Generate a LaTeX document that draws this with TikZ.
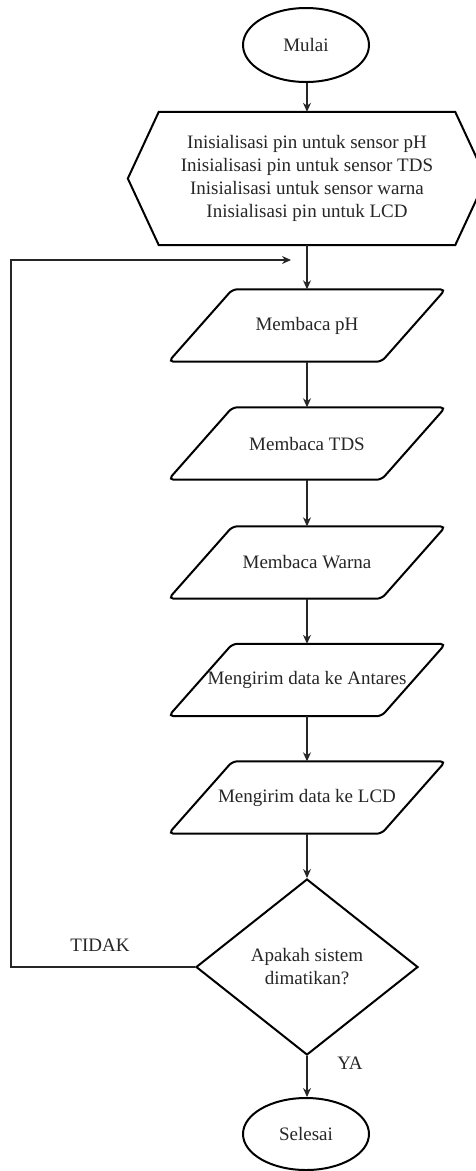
\documentclass[tikz,border=0pt]{standalone}
\usepackage{fontspec}
\setmainfont{Liberation Serif}
\usetikzlibrary{shapes.geometric,arrows.meta}
\newcommand\paral[1]{\draw[shp,rounded corners=5pt] ([xshift=-74.5pt]#1.north) -- ([xshift=138.5pt]#1.north) -- ([xshift=74.5pt]#1.south) -- ([xshift=-138.5pt]#1.south) -- cycle;}
\begin{document}
\begin{tikzpicture}[x=1pt,y=-1pt,
  font=\fontsize{19}{23}\selectfont,
  shp/.style={draw=black,line width=2pt},
  term/.style={shp,ellipse,inner sep=0pt,minimum width=126pt,minimum height=74pt},
  box/.style={inner sep=0pt,minimum width=200pt,minimum height=72pt,align=center,text=black!85},
  dec/.style={shp,diamond,inner sep=0pt,minimum width=222pt,minimum height=176pt,align=center,text=black!85},
  conn/.style={draw=black!85,line width=1.2pt,-{Stealth[length=9pt,width=8pt]}},
  lbl/.style={text=black!85}]
\useasboundingbox (0,0) rectangle (476,1171);
\clip (0,0) rectangle (476,1171);
\fill[white] (0,0) rectangle (476,1171);

\node[term,text=black!85] (mulai) at (306,45) {Mulai};

\node[box,minimum width=296pt,minimum height=133pt] (init) at (307,178.5)
  {Inisialisasi pin untuk sensor pH\\Inisialisasi pin untuk sensor TDS\\Inisialisasi untuk sensor warna\\Inisialisasi pin untuk LCD};
\draw[shp] (init.north west) -- (init.north east) -- ([xshift=31pt]init.east) -- (init.south east) -- (init.south west) -- ([xshift=-31pt]init.west) -- cycle;

\node[box] (ph) at (307,325.5) {Membaca pH};
\paral{ph}
\node[box] (tds) at (307,443.5) {Membaca TDS};
\paral{tds}
\node[box] (warna) at (307,562.5) {Membaca Warna};
\paral{warna}
\node[box] (antares) at (307,680) {Mengirim data ke Antares};
\paral{antares}
\node[box] (lcd) at (307,797.5) {Mengirim data ke LCD};
\paral{lcd}

\node[dec] (dec) at (307,967) {Apakah sistem\\dimatikan?};

\node[term,minimum height=72pt,text=black!85] (selesai) at (306,1134) {Selesai};

\draw[conn] (mulai.south -| init.north) -- (init.north);
\draw[conn] (init) -- (ph);
\draw[conn] (ph) -- (tds);
\draw[conn] (tds) -- (warna);
\draw[conn] (warna) -- (antares);
\draw[conn] (antares) -- (lcd);
\draw[conn] (lcd) -- (dec);
\draw[conn] (dec.south) -- (dec.south |- selesai.north);

\coordinate (c1) at (11,260);
\coordinate (loopend) at (291,260);
\draw[conn] (dec.west) -| (c1) -- (loopend);

\node[lbl] (tidak) at (100,945) {TIDAK};
\node[lbl] (ya) at (350,1063) {YA};
\end{tikzpicture}
\end{document}
